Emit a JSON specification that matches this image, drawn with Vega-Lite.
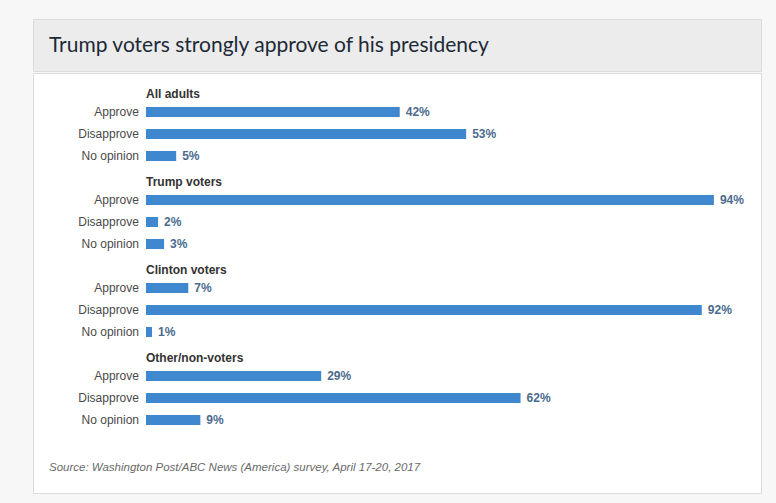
{
  "$schema": "https://vega.github.io/schema/vega-lite/v6.json",
  "background": "#f7f7f7",
  "padding": {"left": 32, "top": 18, "right": 16, "bottom": 13},
  "spacing": 0,
  "config": {"font": "Liberation Sans", "concat": {"spacing": 0}},
  "datasets": {
    "bars": [
      {"group": "All adults", "answer": "Approve", "pct": 0.42, "row": "All adults · Approve"},
      {"group": "All adults", "answer": "Disapprove", "pct": 0.53, "row": "All adults · Disapprove"},
      {"group": "All adults", "answer": "No opinion", "pct": 0.05, "row": "All adults · No opinion"},
      {"group": "Trump voters", "answer": "Approve", "pct": 0.94, "row": "Trump voters · Approve"},
      {"group": "Trump voters", "answer": "Disapprove", "pct": 0.02, "row": "Trump voters · Disapprove"},
      {"group": "Trump voters", "answer": "No opinion", "pct": 0.03, "row": "Trump voters · No opinion"},
      {"group": "Clinton voters", "answer": "Approve", "pct": 0.07, "row": "Clinton voters · Approve"},
      {"group": "Clinton voters", "answer": "Disapprove", "pct": 0.92, "row": "Clinton voters · Disapprove"},
      {"group": "Clinton voters", "answer": "No opinion", "pct": 0.01, "row": "Clinton voters · No opinion"},
      {"group": "Other/non-voters", "answer": "Approve", "pct": 0.29, "row": "Other/non-voters · Approve"},
      {"group": "Other/non-voters", "answer": "Disapprove", "pct": 0.62, "row": "Other/non-voters · Disapprove"},
      {"group": "Other/non-voters", "answer": "No opinion", "pct": 0.09, "row": "Other/non-voters · No opinion"}
    ],
    "headers": [
      {"group": "All adults", "row": "All adults"},
      {"group": "Trump voters", "row": "Trump voters"},
      {"group": "Clinton voters", "row": "Clinton voters"},
      {"group": "Other/non-voters", "row": "Other/non-voters"}
    ]
  },
  "vconcat": [
    {
      "width": 728,
      "height": 52,
      "view": {"fill": "#ececec", "stroke": "#dcdcdc"},
      "title": {
        "text": "Trump voters strongly approve of his presidency",
        "anchor": "start",
        "frame": "group",
        "orient": "top",
        "offset": -37,
        "dx": 16,
        "font": "Lato",
        "fontSize": 21,
        "fontWeight": "normal",
        "color": "#1d2a36"
      },
      "data": {"values": [{"t": ""}]},
      "mark": {"type": "text"},
      "encoding": {"text": {"field": "t"}}
    },
    {
      "width": 728,
      "height": 420,
      "view": {"fill": "#ffffff", "stroke": "#dcdcdc"},
      "title": {
        "text": "Source: Washington Post/ABC News (America) survey, April 17-20, 2017",
        "anchor": "start",
        "frame": "group",
        "orient": "bottom",
        "offset": -31,
        "dx": 16,
        "font": "Liberation Sans",
        "fontSize": 11.5,
        "fontStyle": "italic",
        "fontWeight": "normal",
        "color": "#6a6a6a"
      },
      "encoding": {
        "y": {
          "field": "row",
          "type": "nominal",
          "axis": null,
          "sort": null,
          "scale": {
            "domain": [
              "All adults", "All adults · Approve", "All adults · Disapprove", "All adults · No opinion",
              "Trump voters", "Trump voters · Approve", "Trump voters · Disapprove", "Trump voters · No opinion",
              "Clinton voters", "Clinton voters · Approve", "Clinton voters · Disapprove", "Clinton voters · No opinion",
              "Other/non-voters", "Other/non-voters · Approve", "Other/non-voters · Disapprove", "Other/non-voters · No opinion",
              " ", "  "
            ],
            "paddingInner": 0,
            "paddingOuter": 0.545,
            "align": 0.25
          }
        }
      },
      "layer": [
        {
          "data": {"name": "bars"},
          "mark": {"type": "bar", "height": 10, "color": "#3f87cf"},
          "encoding": {
            "x": {"field": "pct", "type": "quantitative", "axis": null, "scale": {"domain": [-0.187, 1.018], "zero": false, "nice": false}},
            "x2": {"datum": 0}
          }
        },
        {
          "data": {"name": "bars"},
          "mark": {"type": "text", "align": "right", "baseline": "middle", "dx": -7, "fontSize": 12, "color": "#4a4a4a"},
          "encoding": {
            "x": {"datum": 0, "type": "quantitative"},
            "text": {"field": "answer"}
          }
        },
        {
          "data": {"name": "bars"},
          "mark": {"type": "text", "align": "left", "baseline": "middle", "dx": 6, "fontSize": 12, "fontWeight": "bold", "color": "#4b6b8e"},
          "encoding": {
            "x": {"field": "pct", "type": "quantitative"},
            "text": {"field": "pct", "format": ".0%"}
          }
        },
        {
          "data": {"name": "headers"},
          "mark": {"type": "text", "align": "left", "baseline": "middle", "dy": 4, "fontSize": 12, "fontWeight": "bold", "color": "#333333"},
          "encoding": {
            "x": {"datum": 0, "type": "quantitative"},
            "text": {"field": "group"}
          }
        }
      ]
    }
  ]
}
